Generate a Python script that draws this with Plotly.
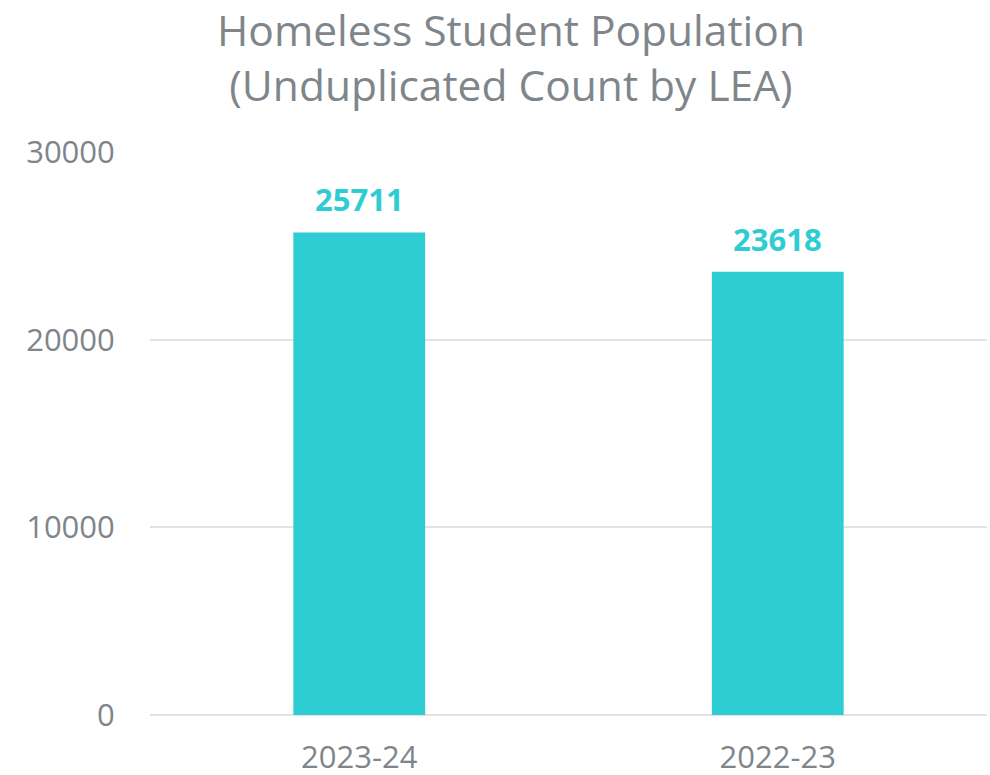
import plotly.graph_objects as go

categories = ["2023-24", "2022-23"]
values = [25711, 23618]
y_ticks = [0, 10000, 20000, 30000]
y_tick_labels = ["0", "10000", "20000", "30000"]
title_text = "Homeless Student Population<br>(Unduplicated Count by LEA)"

bar_color = "#2ECCD3"
text_color = "#7F868B"
grid_color = "#E3E3E3"
font_family = "Open Sans"

fig = go.Figure()
fig.add_trace(go.Bar(
    x=categories, y=values,
    marker=dict(color=bar_color, line=dict(width=0)),
    hoverinfo="x+y",
))

for c, v in zip(categories, values):
    fig.add_annotation(
        x=c, y=v, text="<b>%d</b>" % v, showarrow=False,
        xref="x", yref="y", yanchor="bottom", yshift=10,
        font=dict(family=font_family, size=31, color=bar_color),
    )

plot_top, plot_h = 152, 563
fig.add_annotation(
    text=title_text, showarrow=False,
    xref="paper", yref="paper",
    x=(511 - 150) / 837, xanchor="center",
    y=1 + (plot_top + 1) / plot_h, yanchor="top",
    font=dict(family=font_family, size=42.5, color=text_color),
)

fig.update_layout(
    width=990, height=775,
    margin=dict(l=150, r=3, t=152, b=60, autoexpand=False),
    paper_bgcolor="white", plot_bgcolor="white",
    bargap=0.685,
    showlegend=False,
    font=dict(family=font_family, color=text_color),
    xaxis=dict(
        automargin=False,
        showgrid=False, zeroline=False, showline=False,
        ticks="outside", ticklen=15, tickcolor="rgba(0,0,0,0)",
        tickfont=dict(family=font_family, size=31, color=text_color),
    ),
    yaxis=dict(
        automargin=False,
        range=[0, 30000], tickvals=y_ticks, ticktext=y_tick_labels,
        showgrid=True, gridcolor=grid_color, gridwidth=2,
        zeroline=True, zerolinecolor=grid_color, zerolinewidth=2,
        showline=False,
        ticks="outside", ticklen=28, tickcolor="rgba(0,0,0,0)",
        tickfont=dict(family=font_family, size=31, color=text_color),
    ),
)

fig.write_html("out.html")
